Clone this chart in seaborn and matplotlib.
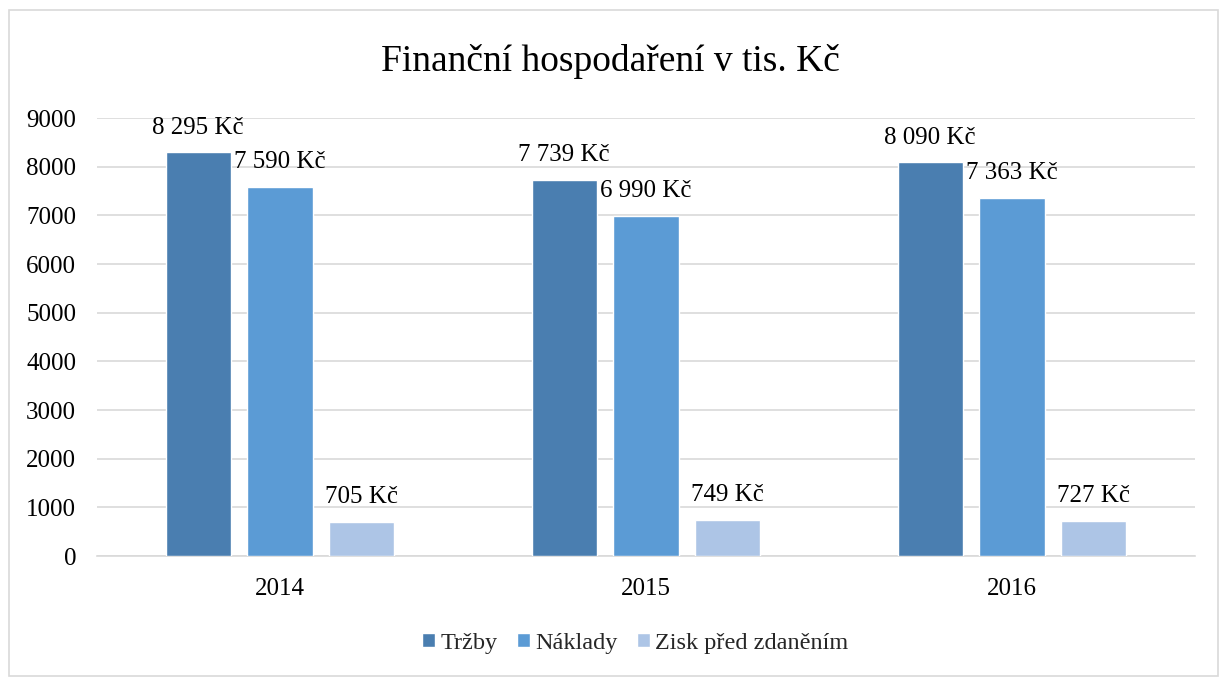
import matplotlib
matplotlib.use("Agg")
import matplotlib.pyplot as plt
import seaborn as sns
import pandas as pd
from matplotlib.patches import Rectangle

years = ["2014", "2015", "2016"]
series = ["Tržby", "Náklady", "Zisk před zdaněním"]
trzby = [8295, 7739, 8090]
naklady = [7590, 6990, 7363]
zisk = [705, 749, 727]
colors = ["#4a7eb0", "#5b9bd5", "#adc5e6"]

rows = []
for name, vals in zip(series, [trzby, naklady, zisk]):
    for y, v in zip(years, vals):
        rows.append({"Rok": y, "Série": name, "Hodnota": v})
df = pd.DataFrame(rows)

sns.set_theme(style="white")
plt.rcParams["font.family"] = ["Liberation Serif", "DejaVu Serif"]

fig = plt.figure(figsize=(12.2, 6.79), dpi=100)
ax = fig.add_axes([0.0795, 0.181, 0.9, 0.645])

sns.barplot(data=df, x="Rok", y="Hodnota", hue="Série", order=years,
            hue_order=series, palette=colors, width=0.67, gap=0.2,
            saturation=1, ax=ax, legend=True, zorder=3)

ax.set_ylim(0, 9000)
ax.set_yticks(range(0, 9001, 1000))
ax.yaxis.grid(True, color="#d9d9d9", linewidth=1.2, zorder=0)
ax.set_axisbelow(True)
for s in ["top", "right", "left"]:
    ax.spines[s].set_visible(False)
ax.spines["bottom"].set_color("#d9d9d9")
ax.spines["bottom"].set_linewidth(1.2)
ax.tick_params(axis="both", length=0, labelsize=18, colors="black")
ax.tick_params(axis="x", pad=16)
ax.tick_params(axis="y", pad=15)
ax.set_xlabel("")
ax.set_ylabel("")

def fmt(v):
    return f"{v:,}".replace(",", " ") + " Kč"

for cont in ax.containers:
    for bar in cont:
        h = bar.get_height()
        ax.annotate(fmt(int(round(h))), (bar.get_x() + bar.get_width() / 2, h),
                    xytext=(0, 10), textcoords="offset points",
                    ha="center", va="bottom", fontsize=18, color="black")

leg = ax.legend(loc="upper center", bbox_to_anchor=(0.49, -0.125), ncol=3,
                frameon=False, fontsize=17.5, handlelength=0.55, handleheight=0.55,
                handletextpad=0.2, columnspacing=0.8)

fig.text(0.5, 0.909, "Finanční hospodaření v tis. Kč", ha="center", va="center",
         fontsize=27, color="black")

fig.patches.append(Rectangle((9 / 1220, 3 / 679), 1209 / 1220, 666 / 679,
                             transform=fig.transFigure, fill=False,
                             edgecolor="#d9d9d9", linewidth=1.2))

fig.savefig("out.png", dpi=100)
